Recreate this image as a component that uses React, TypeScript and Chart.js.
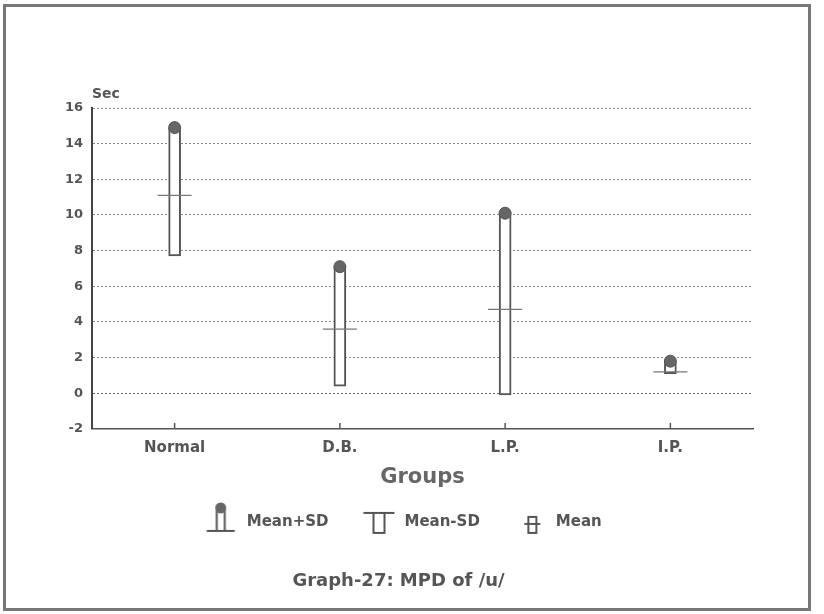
import React, { useEffect, useRef } from "react";
import { Chart, registerables } from "chart.js";

Chart.register(...registerables);

const groups = ["Normal", "D.B.", "L.P.", "I.P."];
const meanPlusSD = [14.9, 7.1, 10.1, 1.8];
const meanMinusSD = [7.7, 0.4, -0.1, 1.1];
const means = [11.1, 3.6, 4.7, 1.2];
const legendLabels = ["Mean+SD", "Mean-SD", "Mean"];
const yMin = -2;
const yMax = 16;
const yStep = 2;
const yUnit = "Sec";
const xTitle = "Groups";
const chartTitle = "Graph-27: MPD of /u/";

const FONT = "'DejaVu Sans', 'Liberation Sans', Arial, sans-serif";
const INK = "#555";

function makeIcon(kind: number): HTMLCanvasElement {
  const c = document.createElement("canvas");
  c.width = 44;
  c.height = 40;
  const g = c.getContext("2d")!;
  g.strokeStyle = INK;
  g.fillStyle = "#666";
  g.lineWidth = 2;
  if (kind === 0) {
    g.beginPath();
    g.moveTo(11.5, 29);
    g.lineTo(39.5, 29);
    g.stroke();
    g.strokeRect(21.5, 9, 8, 20);
    g.beginPath();
    g.arc(25.5, 6, 5.5, 0, Math.PI * 2);
    g.fill();
  } else if (kind === 1) {
    g.beginPath();
    g.moveTo(10.5, 11);
    g.lineTo(41.5, 11);
    g.stroke();
    g.strokeRect(20.5, 11, 11, 20);
  } else {
    g.strokeRect(24, 15, 8, 16);
    g.beginPath();
    g.moveTo(20, 22);
    g.lineTo(36, 22);
    g.stroke();
  }
  return c;
}

const decorPlugin = {
  id: "decor",
  afterDraw(chart: any) {
    const { ctx, chartArea, scales } = chart;
    ctx.save();
    ctx.fillStyle = INK;
    ctx.font = `bold 14px ${FONT}`;
    ctx.textAlign = "left";
    ctx.textBaseline = "middle";
    ctx.fillText(yUnit, chartArea.left, 94);
    ctx.strokeStyle = INK;
    ctx.lineWidth = 1.5;
    const xs = scales.x;
    groups.forEach((_, i) => {
      const px = xs.getPixelForTick(i);
      ctx.beginPath();
      ctx.moveTo(px, chartArea.bottom);
      ctx.lineTo(px, chartArea.bottom - 6);
      ctx.stroke();
    });
    ctx.restore();
  },
};

export default function App() {
  const ref = useRef<HTMLCanvasElement | null>(null);

  useEffect(() => {
    if (!ref.current) return;
    const icons = [makeIcon(0), makeIcon(1), makeIcon(2)];
    const chart = new Chart(ref.current, {
      type: "bar",
      data: {
        labels: groups,
        datasets: [
          {
            type: "line",
            label: legendLabels[0],
            data: meanPlusSD,
            showLine: false,
            pointStyle: "circle",
            pointRadius: 6,
            pointBackgroundColor: "#666",
            pointBorderColor: "#555",
            pointBorderWidth: 1,
            order: 1,
          } as any,
          {
            type: "line",
            label: legendLabels[2],
            data: means,
            showLine: false,
            pointStyle: "line",
            pointRadius: 17,
            pointBorderColor: "#777",
            pointBorderWidth: 1.3,
            order: 2,
          } as any,
          {
            type: "bar",
            label: legendLabels[1],
            data: groups.map((_, i) => [meanMinusSD[i], meanPlusSD[i]]),
            backgroundColor: "#ffffff",
            borderColor: "#555",
            borderWidth: 2,
            borderSkipped: false,
            barThickness: 12,
            order: 3,
          } as any,
        ],
      },
      options: {
        responsive: false,
        animation: false,
        events: [],
        layout: { padding: { left: 44, right: 71, top: 108, bottom: 22 } },
        scales: {
          x: {
            type: "category",
            offset: true,
            grid: { display: false, drawTicks: false },
            border: { display: true, color: "#555", width: 1.5 },
            ticks: {
              color: INK,
              font: { family: FONT, size: 15, weight: "bold" },
              padding: 10,
            },
            title: {
              display: true,
              text: xTitle,
              color: "#666",
              font: { family: FONT, size: 21, weight: "bold" },
              padding: { top: 0, bottom: 0 },
            },
            afterFit(scale: any) {
              scale.height = 61;
            },
          },
          y: {
            min: yMin,
            max: yMax,
            grid: {
              drawTicks: false,
              color: (c: any) => (c.tick && c.tick.value === 0 ? "#666" : "#888"),
              lineWidth: 1,
            },
            border: { display: true, color: "#444", width: 2, dash: [2, 2] },
            ticks: {
              stepSize: yStep,
              color: INK,
              font: { family: FONT, size: 13, weight: "bold" },
              padding: 9,
            },
            afterFit(scale: any) {
              scale.width = 48;
            },
          },
        },
        plugins: {
          tooltip: { enabled: false },
          legend: {
            position: "bottom",
            labels: {
              usePointStyle: true,
              pointStyleWidth: 44,
              padding: 24.5,
              color: INK,
              font: { family: FONT, size: 15, weight: "bold" },
              generateLabels: () =>
                legendLabels.map((t, i) => ({
                  text: t,
                  pointStyle: icons[i],
                  fillStyle: "#fff",
                  strokeStyle: INK,
                  lineWidth: 0,
                  hidden: false,
                  datasetIndex: i,
                  fontColor: INK,
                })) as any,
            },
          },
          title: {
            display: true,
            position: "bottom",
            text: chartTitle,
            color: INK,
            font: { family: FONT, size: 18, weight: "bold" },
            padding: { top: 31, bottom: 0 },
          },
        },
      } as any,
      plugins: [decorPlugin],
    });
    return () => chart.destroy();
  }, []);

  return (
    <div
      style={{
        position: "fixed",
        left: 0,
        top: 0,
        width: 824,
        height: 614,
        background: "#fff",
        overflow: "hidden",
      }}
    >
      <canvas
        ref={ref}
        width={824}
        height={614}
        style={{ position: "absolute", left: 0, top: 0, width: 824, height: 614 }}
      />
      <div
        style={{
          position: "absolute",
          left: 3,
          top: 4,
          width: 808,
          height: 607,
          border: "3px solid #777",
          boxSizing: "border-box",
          pointerEvents: "none",
        }}
      />
    </div>
  );
}
